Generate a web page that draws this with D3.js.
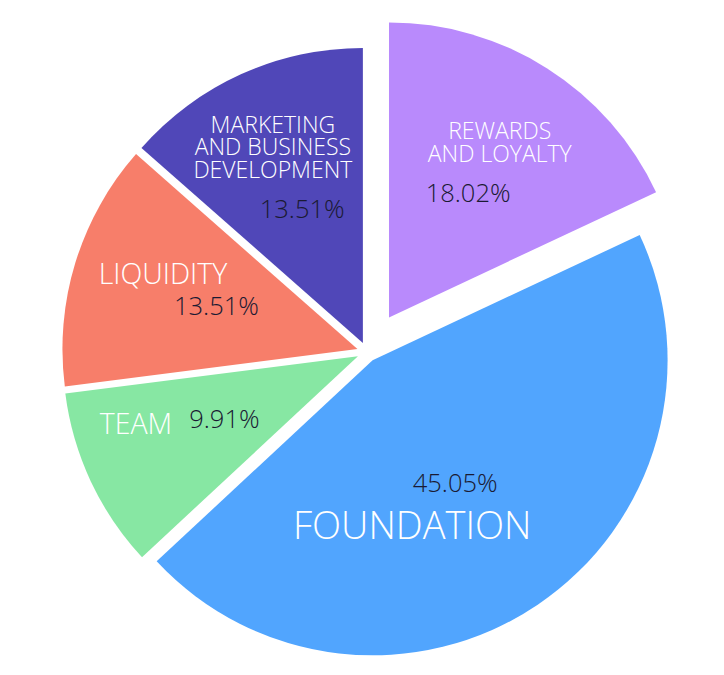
<!DOCTYPE html>
<html>
<head>
<meta charset="utf-8">
<script src="https://cdn.jsdelivr.net/npm/d3@7"></script>
<style>
  html, body { margin: 0; padding: 0; background: #ffffff; }
  svg { display: block; }
</style>
</head>
<body>
<svg id="chart" width="724" height="675"></svg>
<script>
// ---- data ----
const categories = ["REWARDS\nAND LOYALTY", "FOUNDATION", "TEAM", "LIQUIDITY", "MARKETING\nAND BUSINESS\nDEVELOPMENT"];
const values = [18.02, 45.05, 9.91, 13.51, 13.51];
const colors = ["#b98afc", "#51a5fe", "#87e7a3", "#f77e6a", "#5047b8"];

// ---- layout (styles / positions, not data) ----
const explode = [41, 10, 10, 10, 10];
const labelSize = [23, 38, 28.5, 28.5, 23];
const labelNudge = [[0, -1], [-76, -6], [-35, -20], [3, -15], [-5, -7.5]];

const W = 724, H = 675;
const cx = 367, cy = 352, R = 295;
const FONT = "'Open Sans', 'Noto Sans', sans-serif";

const svg = d3.select("#chart");
const g = svg.append("g").attr("transform", `translate(${cx},${cy})`);

const pie = d3.pie().sort(null).value(d => d.value).startAngle(0).endAngle(2 * Math.PI);
const data = categories.map((c, i) => ({ name: c, value: values[i], i }));
const arcs = pie(data);
const arc = d3.arc().innerRadius(0).outerRadius(R);

const total = d3.sum(values);
const fmt = d3.format(".2f");

const slices = g.selectAll("g.slice").data(arcs).join("g")
  .attr("class", "slice")
  .attr("transform", d => {
    const a = (d.startAngle + d.endAngle) / 2;
    const o = explode[d.data.i];
    return `translate(${Math.sin(a) * o},${-Math.cos(a) * o})`;
  });

slices.append("path")
  .attr("d", arc)
  .attr("fill", d => colors[d.data.i]);

// percent labels at 0.5R along mid angle
slices.append("text")
  .attr("x", d => Math.sin((d.startAngle + d.endAngle) / 2) * R * 0.5)
  .attr("y", d => -Math.cos((d.startAngle + d.endAngle) / 2) * R * 0.5 + 25.5 * 0.357)
  .attr("text-anchor", "middle")
  .attr("font-family", FONT)
  .attr("font-weight", 350)
  .attr("font-size", 25.5)
  .attr("fill", "#1a1a33")
  .text(d => fmt(d.data.value / total * 100) + "%");

// category labels at 0.7R along mid angle (with nudges)
slices.each(function (d) {
  const i = d.data.i;
  const a = (d.startAngle + d.endAngle) / 2;
  const fs = labelSize[i];
  const lines = d.data.name.split("\n");
  const lh = fs * 0.99;
  const x = Math.sin(a) * R * 0.7 + labelNudge[i][0];
  const yc = -Math.cos(a) * R * 0.7 + labelNudge[i][1];
  const t = d3.select(this).append("text")
    .attr("text-anchor", "middle")
    .attr("font-family", FONT)
    .attr("font-weight", 350)
    .attr("font-size", fs)
    .attr("fill", "#ffffff");
  lines.forEach((ln, k) => {
    t.append("tspan")
      .attr("x", x)
      .attr("y", yc + (k - (lines.length - 1) / 2) * lh + fs * 0.357)
      .text(ln);
  });
});
</script>
</body>
</html>
